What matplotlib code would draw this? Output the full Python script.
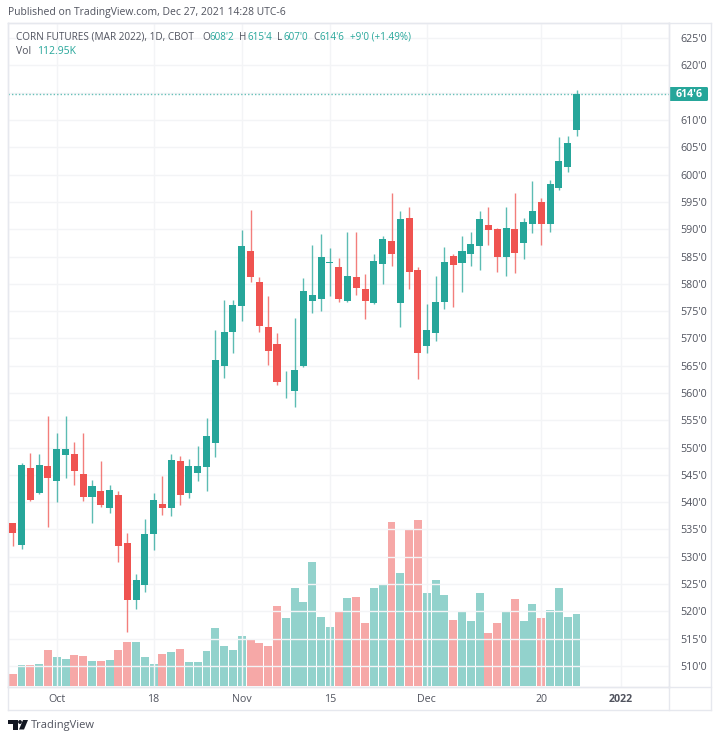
import matplotlib
matplotlib.use("Agg")
import matplotlib.pyplot as plt
from matplotlib.lines import Line2D
from matplotlib.patches import FancyBboxPatch, Polygon, Circle

plt.rcParams['font.family'] = ['Open Sans', 'DejaVu Sans']

# Daily candles, index 0 = Sep 24 2021, prices in cents
opens = [536.2, 532.2, 546.2, 541.6, 546.7, 543.9, 548.7, 548.8, 545.2, 541.0,
         542.0, 538.9, 541.4, 532.5, 522.0, 524.8, 534.2, 539.7, 538.9, 547.5,
         541.6, 545.4, 546.4, 550.9, 565.0, 571.1, 575.9, 586.1, 580.3, 572.0,
         568.9, 560.9, 560.3, 565.0, 576.9, 577.2, 583.9, 583.1, 576.9, 581.3,
         579.0, 576.4, 583.7, 587.9, 576.5, 592.0, 582.5, 568.7, 570.9, 576.6,
         585.1, 583.9, 585.4, 587.0, 590.8, 590.0, 585.0, 590.0, 587.4, 590.9,
         594.9, 590.9, 597.5, 601.4, 608.25]
closes = [534.3, 546.9, 540.4, 546.9, 544.4, 549.8, 549.8, 545.8, 541.0, 543.0,
          539.4, 542.2, 531.9, 522.0, 525.7, 534.2, 540.4, 538.9, 547.7, 541.4,
          546.7, 546.7, 552.2, 566.0, 571.2, 576.2, 587.0, 581.2, 572.2, 567.7,
          562.1, 561.0, 564.2, 578.7, 578.0, 585.0, 584.0, 577.3, 581.4, 579.3,
          576.9, 584.2, 588.2, 585.4, 591.8, 582.1, 567.4, 571.5, 576.7, 584.0,
          583.4, 586.0, 587.2, 591.8, 589.9, 585.0, 590.2, 585.7, 591.3, 593.3,
          590.9, 598.3, 602.5, 605.8, 614.75]
highs = [536.2, 547.2, 549.0, 548.8, 555.8, 552.7, 555.8, 551.0, 552.6, 544.1,
         547.5, 543.1, 542.0, 534.4, 526.8, 537.0, 541.7, 544.8, 548.8, 548.5,
         547.9, 550.3, 555.4, 571.5, 577.0, 577.0, 589.8, 593.5, 581.3, 577.8,
         570.9, 564.0, 573.7, 581.0, 587.1, 589.2, 586.5, 584.7, 589.5, 589.5,
         581.8, 585.5, 588.7, 596.7, 593.3, 594.1, 583.1, 576.3, 581.5, 586.8,
         585.5, 588.8, 589.5, 593.3, 594.0, 590.2, 594.0, 596.6, 592.0, 598.8,
         595.7, 599.0, 606.8, 607.0, 615.5]
lows = [532.0, 531.5, 540.3, 541.5, 535.5, 540.1, 544.5, 543.2, 540.2, 536.1,
        539.2, 538.1, 529.0, 516.3, 520.5, 523.5, 531.3, 537.7, 537.4, 539.5,
        540.8, 543.8, 542.1, 548.3, 562.8, 567.3, 573.2, 580.4, 571.2, 565.2,
        561.5, 559.0, 557.5, 564.8, 574.7, 575.0, 577.8, 576.6, 576.6, 578.0,
        573.6, 576.3, 580.0, 583.2, 572.0, 579.0, 562.5, 567.3, 569.6, 575.3,
        575.7, 578.5, 583.2, 582.5, 587.1, 582.2, 581.5, 582.0, 584.5, 589.3,
        587.1, 589.5, 597.1, 600.5, 607.0]
volumes = [18.9, 32.6, 32.6, 34.7, 56.7, 45.2, 42.0, 48.3, 47.3, 39.4,
           39.4, 41.0, 56.7, 69.3, 69.3, 46.2, 34.7, 50.9, 53.1, 58.3,
           38.3, 38.3, 55.6, 90.9, 63.5, 57.2, 79.3, 74.5, 68.2, 63.5,
           126.1, 106.7, 154.9, 132.4, 195.9, 108.3, 93.0, 116.6, 138.7, 139.8,
           99.3, 154.9, 158.7, 258.0, 178.6, 245.4, 261.6, 146.6, 167.1, 143.4,
           104.0, 116.6, 102.9, 146.1, 83.1, 99.3, 117.7, 137.6, 102.0, 128.8,
           106.7, 119.3, 154.9, 109.2, 112.95]

price_ticks = list(range(510, 630, 5))
date_ticks = [5, 16, 26, 36, 47, 60, 69]
date_labels = ["Oct", "18", "Nov", "15", "Dec", "20", "2022"]

GREEN = "#26a69a"
RED = "#ef5350"
GRID = "#f3f4f6"
BORDER = "#e6e8ee"
TEXT = "#50535e"
W, H = 720, 741

fig = plt.figure(figsize=(W / 100, H / 100), dpi=100)
ax = fig.add_axes([8 / W, 1 - 687 / H, 661 / W, 664 / H])
vol = ax.twinx()
ax.set_zorder(vol.get_zorder() + 1)
ax.patch.set_visible(False)

ax.set_xlim(-0.533, 74.5)
ax.set_ylim(506.15, 627.77)
vol.set_ylim(-1.5, 1045)
vol.set_yticks([])

x = list(range(len(opens)))
colors = [GREEN if c >= o else RED for o, c in zip(opens, closes)]

vol.bar(x, volumes, width=0.9, color=colors, alpha=0.5, linewidth=0)
ax.vlines(x, lows, highs, colors=colors, linewidth=1, alpha=0.75, zorder=3)
ax.bar(x, [abs(c - o) for o, c in zip(opens, closes)],
       bottom=[min(o, c) for o, c in zip(opens, closes)],
       width=0.8, color=colors, linewidth=0, zorder=4)

# last price line
ax.axhline(closes[-1], color=GREEN, linewidth=1, alpha=0.7, linestyle=(0, (1, 1.5)), zorder=2)

# the 615 label is hidden behind the last price tag
ax.set_yticks(price_ticks)
ax.set_yticklabels(["" if p == 615 else f"{p}'0" for p in price_ticks])
ax.yaxis.tick_right()
ax.set_xticks(date_ticks)
ax.set_xticklabels(date_labels)
ax.get_xticklabels()[-1].set_fontweight("bold")
ax.tick_params(axis="both", length=0, labelsize=7.7, labelcolor=TEXT)
ax.tick_params(axis="x", pad=5)
ax.tick_params(axis="y", pad=8)
ax.grid(True, color=GRID, linewidth=1, zorder=0)
ax.set_axisbelow(True)
for a in (ax, vol):
    for side in a.spines.values():
        side.set_color(BORDER)
        side.set_linewidth(1)


def px(x0, y0):
    return x0 / W, 1 - y0 / H


# frame around the axis strips
for (x0, y0), (x1, y1) in [((8, 687), (8, 710)), ((8, 710), (711, 710)),
                           ((711, 710), (711, 23)), ((711, 23), (669, 23)),
                           ((669, 687), (669, 710)), ((669, 687), (711, 687))]:
    fig.add_artist(Line2D([x0 / W, x1 / W], [1 - y0 / H, 1 - y1 / H], color=BORDER, linewidth=1))

# price tag for the last close
tag_y = 94
tag = FancyBboxPatch(px(669, tag_y + 7), 39 / W, 14 / H, boxstyle="round,pad=0,rounding_size=0.002",
                     transform=fig.transFigure, facecolor=GREEN, edgecolor="none")
fig.add_artist(tag)
fig.text(*px(689, tag_y + 0.5), "614'6", color="white", fontsize=7.7, fontweight="bold",
         ha="center", va="center")

# header and legend
fig.text(*px(8, 13), "Published on TradingView.com, Dec 27, 2021 14:28 UTC-6",
         color=TEXT, fontsize=7.45, va="center")
fig.text(*px(16, 37), "CORN FUTURES (MAR 2022), 1D, CBOT", color=TEXT, fontsize=7.2, va="center")
legend_parts = [(202.5, "O", TEXT), (210, "608'2", GREEN), (239.5, "H", TEXT), (247.5, "615'4", GREEN),
                (277.5, "L", TEXT), (283, "607'0", GREEN), (313, "C", TEXT), (320, "614'6", GREEN),
                (350.5, "+9'0 (+1.49%)", GREEN)]
for xp, label, col in legend_parts:
    fig.text(*px(xp, 37), label, color=col, fontsize=7.1, va="center")
fig.text(*px(16, 52), "Vol", color=TEXT, fontsize=7.5, va="center")
fig.text(*px(37, 52), "112.95K", color=GREEN, fontsize=7.5, va="center")

# TradingView mark
logo = "#131722"
fig.add_artist(Polygon([px(8, 720), px(17.5, 720), px(17.5, 729.5), px(13, 729.5), px(13, 724), px(8, 724)],
                       closed=True, transform=fig.transFigure, facecolor=logo, edgecolor="none"))
fig.add_artist(Circle(px(20, 722), 1.9 / W, transform=fig.transFigure, facecolor=logo, edgecolor="none"))
fig.add_artist(Polygon([px(23, 720), px(28, 720), px(24, 729.5), px(19, 729.5)],
                       closed=True, transform=fig.transFigure, facecolor=logo, edgecolor="none"))
fig.text(*px(30.5, 725.5), "TradingView", color=TEXT, fontsize=8, va="center")

fig.savefig("out.png", dpi=100)
